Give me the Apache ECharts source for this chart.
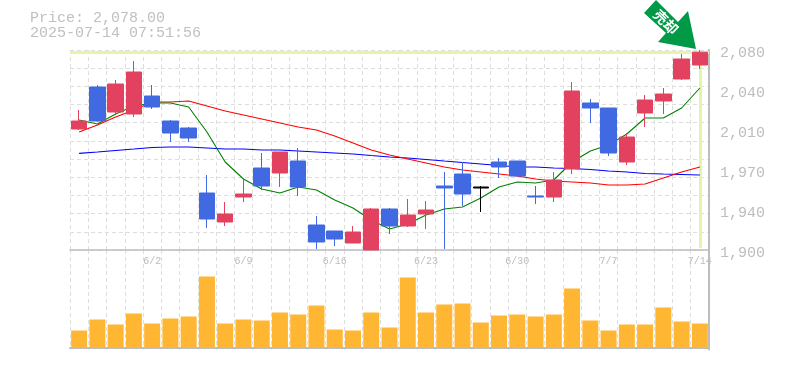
<!DOCTYPE html>
<html><head><meta charset="utf-8">
<style>html,body{margin:0;padding:0;background:#fff}#c{width:785px;height:370px}</style>
<script src="https://cdn.jsdelivr.net/npm/echarts@6/dist/echarts.min.js"></script>
</head><body><div id="c"></div>
<script>
const categories=['5/27','5/28','5/29','5/30','6/2','6/3','6/4','6/5','6/6','6/9','6/10','6/11','6/12','6/13','6/16','6/17','6/18','6/19','6/20','6/23','6/24','6/25','6/26','6/27','6/30','7/1','7/2','7/3','7/4','7/7','7/8','7/9','7/10','7/11','7/14'];
const labelledDates=['6/2','6/9','6/16','6/23','6/30','7/7','7/14'];
const opens=[2008.9,2046.7,2024.2,2022.4,2038.6,2016.1,2009.8,1951.3,1925.2,1947.7,1973.8,1969.3,1980.1,1922.5,1917.1,1906.3,1900,1936.9,1921.6,1932.4,1957.6,1968.4,1956.7,1979.2,1980.1,1948.6,1947.7,1972.9,2032.3,2027.8,1979.2,2023.3,2034.1,2053.9,2066.5];
const closes=[2016.1,2016.1,2049.4,2060.2,2028.7,2005.3,2000.8,1927.9,1932.4,1950.4,1957.6,1988.2,1956.7,1907.2,1909.9,1916.2,1936.9,1921.6,1931.5,1936,1955.8,1950.4,1955.8,1974.7,1966.6,1947.7,1963,2043.1,2027.8,1987.3,2001.7,2035,2040.4,2071.9,2078];
const lows=[2008,2015.2,2021.5,2019.7,2026.9,1997.2,1997.2,1919.8,1921.6,1943.2,1954,1956.7,1948.6,1900.9,1903.6,1906.3,1900,1914.4,1920.7,1918.9,1900.9,1939.6,1934.2,1964.8,1965.7,1941.4,1943.2,1968.4,2014.3,1984.6,1976.5,2010.7,2022.4,2053,2062.9];
const highs=[2026,2048.5,2053,2070.1,2048.5,2017,2010.7,1967.5,1943.2,1964.8,1987.3,1988.2,1991.8,1930.6,1917.1,1921.6,1937.8,1937.8,1945.9,1944.1,1970.2,1979.2,1957.6,1982.8,1980.1,1957.6,1970.2,2051.2,2035.9,2027.8,2005.3,2039.5,2045.8,2076.4,2080];
const maShort=[2017,2013.4,2022.4,2029.6,2032.3,2032.3,2028.7,2006.2,1979.2,1963.9,1954.9,1951.3,1956.7,1954,1945,1937.8,1927,1918.9,1923.4,1931.5,1936.9,1938.7,1946.8,1956.7,1961.2,1960.3,1963,1979.2,1989.1,1994.5,2004.4,2018.8,2018.8,2027.8,2045.8];
const maMid=[2006.2,2012.5,2019.7,2026,2033.2,2033.2,2034.1,2029.6,2025.1,2021.5,2017.9,2014.3,2010.7,2008,2002.6,1996.3,1990,1985.5,1981.9,1978.3,1974.7,1972,1970.2,1968.4,1966.6,1963.9,1962.1,1961.2,1960.3,1958.5,1958.5,1959.4,1964.8,1970.2,1974.7];
const maLong=[1987,1988.2,1989.6,1990.9,1992.3,1992.7,1992.7,1991.8,1990.9,1990.9,1990,1990,1989.1,1988.2,1987.3,1986.4,1985,1983.7,1982.8,1981.5,1980.1,1978.8,1977.4,1976,1974.7,1974.7,1973.8,1973.4,1972.5,1971.1,1970.2,1968.9,1968.4,1968,1967.5];
const volumes=[17,28,23,34,24,29,31,71,24,28,27,35,33,42,18,17,35,20,70,35,43,44,25,32,33,31,33,59,27,17,23,23,40,26,24];
const priceTicks=[1900,1936,1972,2008,2044,2080];
const lastPrice=2078;
const priceText='Price: 2,078.00';
const stampText='2025-07-14 07:51:56';
const arrowText='売却';
const dojiIndex=22;

const GRAY='#bdbdbd',GRID='#dedede',RED='#e2425f',BLUE='#4169e1',HL='#e4f5a8',FONT='"Liberation Mono",monospace';
const candleData=categories.map((c,i)=>{
  const value=[opens[i],closes[i],lows[i],highs[i]];
  if(i===dojiIndex) return {value,itemStyle:{color:'#000',color0:'#000',borderColor:'#000',borderColor0:'#000'}};
  return value;
});
const dash={color:GRID,type:[4,3],width:1};
const lineSer=(data,color,z,extra)=>Object.assign({type:'line',data,symbol:'none',lineStyle:{color,width:1.1},z,silent:true,animation:false},extra||{});
const chart=echarts.init(document.getElementById('c'),null,{renderer:'canvas'});
chart.setOption({
  animation:false,
  title:{text:priceText+'\n'+stampText,left:25,top:6,textStyle:{fontFamily:FONT,fontSize:15,fontWeight:'normal',color:'#c0c0c0',lineHeight:15}},
  grid:[{left:70,top:50,width:639,height:200},{left:70,top:250,width:639,height:99.5}],
  xAxis:[
    {type:'category',gridIndex:0,data:categories,boundaryGap:true,
      axisLine:{show:true,lineStyle:{color:GRAY,width:1.5}},axisTick:{show:false},
      axisLabel:{show:true,interval:(i,v)=>labelledDates.includes(v),margin:6,color:'#bdbdbd',fontFamily:FONT,fontSize:10,hideOverlap:false},
      splitLine:{show:true,interval:0,lineStyle:dash}},
    {type:'category',gridIndex:1,data:categories,boundaryGap:true,
      axisLine:{show:true,lineStyle:{color:GRAY,width:2}},axisTick:{show:false},axisLabel:{show:false},
      splitLine:{show:true,interval:0,lineStyle:dash}}
  ],
  yAxis:[
    {type:'value',gridIndex:0,position:'right',min:1900,max:2080,
      axisLine:{show:true,lineStyle:{color:GRAY,width:2}},axisTick:{show:false,customValues:priceTicks},
      axisLabel:{show:true,customValues:priceTicks,margin:11,color:'#bdbdbd',fontFamily:FONT,fontSize:15,verticalAlign:'top',lineHeight:6,
        formatter:v=>(Math.round(v/10)*10).toLocaleString('en-US')},
      splitLine:{show:false}},
    {type:'value',gridIndex:0,position:'left',min:0,max:11,interval:1,axisLine:{show:false},axisTick:{show:false},axisLabel:{show:false},splitLine:{show:true,lineStyle:dash}},
    {type:'value',gridIndex:1,position:'right',min:-2,max:97.5,axisLine:{show:true,lineStyle:{color:GRAY,width:2}},axisTick:{show:false},axisLabel:{show:false},splitLine:{show:false}}
  ],
  series:[
    lineSer(maLong,'#0000ff',3,{xAxisIndex:0,yAxisIndex:0,
      markLine:{silent:true,symbol:'none',animation:false,label:{show:false},lineStyle:{color:HL,width:3,type:'solid'},z:2,
        data:[[{coord:[categories[categories.length-1],lastPrice]},{coord:[categories[categories.length-1],1902]}],{yAxis:lastPrice}]}}),
    lineSer(maMid,'#ff0000',4,{xAxisIndex:0,yAxisIndex:0}),
    lineSer(maShort,'#008000',4,{xAxisIndex:0,yAxisIndex:0}),
    {type:'candlestick',xAxisIndex:0,yAxisIndex:0,data:candleData,barWidth:16,z:5,silent:true,animation:false,
      itemStyle:{color:RED,color0:BLUE,borderColor:RED,borderColor0:BLUE,borderWidth:1}},
    {type:'bar',xAxisIndex:1,yAxisIndex:2,data:volumes,barWidth:16,itemStyle:{color:'#ffb733'},silent:true,animation:false}
  ],
  graphic:[
    {type:'polygon',shape:{points:[[644,13],[656,0],[678,22],[688,11],[696,49],[658,42],[666,33]]},style:{fill:'#009a46'},z:20,silent:true},
    {type:'text',x:666,y:22,rotation:-Math.PI/4,originX:0,originY:0,
      style:{text:arrowText,fill:'#fff',font:'bold 14px "Noto Sans CJK JP"',align:'center',verticalAlign:'middle'},z:21,silent:true}
  ]
});
</script></body></html>
